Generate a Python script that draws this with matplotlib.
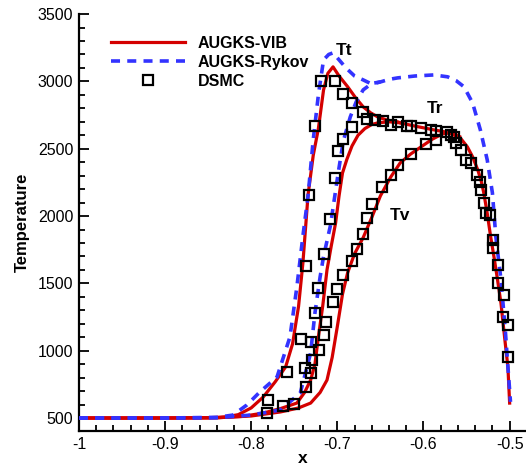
import matplotlib
matplotlib.use("Agg")
import matplotlib.pyplot as plt
from matplotlib.ticker import MultipleLocator

# AUGKS-VIB (red solid)
vib_tt_x = [-1.0, -0.90, -0.85, -0.83, -0.815, -0.80, -0.786, -0.772, -0.760, -0.752, -0.745,
            -0.740, -0.734, -0.728, -0.722, -0.716, -0.711, -0.705, -0.698, -0.688, -0.679,
            -0.670, -0.661, -0.653, -0.642, -0.630, -0.627, -0.610, -0.588, -0.575, -0.565,
            -0.556, -0.549, -0.543, -0.537, -0.533, -0.530, -0.526, -0.522, -0.518, -0.514,
            -0.510, -0.508, -0.505, -0.502, -0.500]
vib_tt_y = [500, 500, 502, 508, 525, 575, 656, 770, 880, 1050, 1330,
            1650, 2157, 2450, 2650, 2937, 3060, 3108, 3040, 2960, 2880,
            2811, 2765, 2736, 2712, 2700, 2692, 2668, 2640, 2625, 2603,
            2570, 2513, 2440, 2343, 2260, 2172, 2020, 1845, 1690, 1525,
            1350, 1228, 1050, 879, 611]
vib_tr_x = [-1.0, -0.90, -0.84, -0.81, -0.786, -0.766, -0.747, -0.738, -0.731, -0.726, -0.722,
            -0.717, -0.712, -0.707, -0.702, -0.698, -0.694, -0.689, -0.683, -0.676, -0.668,
            -0.660, -0.653, -0.640, -0.627]
vib_tr_y = [500, 500, 502, 512, 537, 570, 611, 690, 782, 900, 1102,
            1330, 1600, 1780, 1949, 2150, 2320, 2420, 2520, 2600, 2650,
            2680, 2692, 2700, 2692]
vib_tv_x = [-1.0, -0.90, -0.84, -0.80, -0.766, -0.745, -0.731, -0.720, -0.712, -0.706, -0.700,
            -0.694, -0.688, -0.680, -0.670, -0.660, -0.650, -0.638, -0.627, -0.615, -0.603,
            -0.590, -0.578, -0.567, -0.558]
vib_tv_y = [500, 500, 502, 515, 545, 575, 611, 690, 782, 950, 1180,
            1420, 1580, 1720, 1840, 1990, 2150, 2290, 2395, 2460, 2513,
            2570, 2610, 2620, 2590]

# AUGKS-Rykov (blue dashed)
ryk_tt_x = [-1.0, -0.90, -0.84, -0.821, -0.805, -0.790, -0.770, -0.755, -0.747, -0.740, -0.734,
            -0.728, -0.722, -0.716, -0.710, -0.705, -0.698, -0.690, -0.680, -0.670, -0.660,
            -0.650, -0.640, -0.630, -0.610, -0.588, -0.572, -0.562, -0.553, -0.543, -0.534,
            -0.526, -0.520, -0.516, -0.510, -0.505, -0.502, -0.499]
ryk_tt_y = [500, 500, 505, 522, 597, 693, 805, 1102, 1473, 1850, 2150,
            2566, 2900, 3160, 3200, 3212, 3160, 3100, 3040, 3011, 2980,
            2996, 3015, 3026, 3040, 3048, 3034, 3005, 2960, 2840, 2640,
            2417, 2172, 1845, 1525, 1150, 879, 620]
ryk_tr_x = [-1.0, -0.90, -0.84, -0.80, -0.766, -0.743, -0.731, -0.726, -0.720, -0.716, -0.708,
            -0.699, -0.693, -0.685, -0.678, -0.670, -0.660, -0.650]
ryk_tr_y = [500, 500, 502, 522, 560, 686, 983, 1280, 1548, 1700, 1930,
            2320, 2560, 2736, 2850, 2937, 2985, 2996]

# DSMC (open squares)
dsmc_tt_x = [-0.782, -0.780, -0.759, -0.742, -0.736, -0.733, -0.726, -0.719, -0.703, -0.693,
             -0.683, -0.670, -0.666, -0.656, -0.647, -0.638, -0.630, -0.619, -0.614, -0.603,
             -0.591, -0.585, -0.573, -0.568, -0.565, -0.562, -0.557, -0.551, -0.545, -0.538,
             -0.534, -0.533, -0.530, -0.527, -0.523, -0.519, -0.519, -0.513, -0.514, -0.507,
             -0.508, -0.502, -0.502]
dsmc_tt_y = [537, 634, 842, 1087, 1630, 2157, 2670, 3004, 3004, 2907,
             2840, 2774, 2722, 2714, 2707, 2677, 2700, 2670, 2670, 2655,
             2640, 2630, 2625, 2600, 2588, 2542, 2491, 2417, 2394, 2306,
             2253, 2193, 2097, 2022, 2007, 1822, 1762, 1636, 1503, 1413,
             1250, 1190, 953]
dsmc_tr_x = [-0.763, -0.750, -0.736, -0.731, -0.738, -0.729, -0.721, -0.731, -0.715, -0.713,
             -0.726, -0.705, -0.722, -0.716, -0.708, -0.703, -0.699, -0.693, -0.683]
dsmc_tr_y = [589, 604, 730, 834, 871, 931, 1005, 1065, 1117, 1213,
             1280, 1362, 1466, 1718, 1978, 2283, 2484, 2573, 2662]
dsmc_tv_x = [-0.700, -0.693, -0.683, -0.677, -0.670, -0.665, -0.660, -0.648, -0.638, -0.630,
             -0.615, -0.597, -0.586]
dsmc_tv_y = [1458, 1562, 1666, 1756, 1867, 1986, 2090, 2216, 2305, 2380,
             2462, 2536, 2566]

plt.rcParams['font.family'] = ['Liberation Sans', 'DejaVu Sans']

red = '#d40000'
blue = '#3333ff'

fig = plt.figure(figsize=(5.26, 4.69), dpi=100)
ax = fig.add_axes([0.150, 0.080, 0.850, 0.890])

ax.plot(vib_tt_x, vib_tt_y, color=red, lw=2.3, label='AUGKS-VIB', zorder=2)
ax.plot(vib_tr_x, vib_tr_y, color=red, lw=2.3, zorder=2)
ax.plot(vib_tv_x, vib_tv_y, color=red, lw=2.3, zorder=2)

dash = (2.5, 2.0)
ax.plot(ryk_tt_x, ryk_tt_y, color=blue, lw=2.6, ls=(0, dash), label='AUGKS-Rykov', zorder=3)
ax.plot(ryk_tr_x, ryk_tr_y, color=blue, lw=2.6, ls=(0, dash), zorder=3)

sq = dict(ls='none', marker='s', ms=7.5, mfc='none', mec='black', mew=1.6, zorder=4)
ax.plot(dsmc_tt_x, dsmc_tt_y, label='DSMC', **sq)
ax.plot(dsmc_tr_x, dsmc_tr_y, **sq)
ax.plot(dsmc_tv_x, dsmc_tv_y, **sq)

ax.text(-0.692, 3233, 'Tt', fontsize=12.5, fontweight='bold', ha='center', va='center')
ax.text(-0.587, 2802, 'Tr', fontsize=12.5, fontweight='bold', ha='center', va='center')
ax.text(-0.627, 2007, 'Tv', fontsize=12.5, fontweight='bold', ha='center', va='center')

ax.set_xlim(-1, -0.481)
ax.set_ylim(400, 3500)
ax.xaxis.set_major_locator(MultipleLocator(0.1))
ax.xaxis.set_minor_locator(MultipleLocator(0.02))
ax.yaxis.set_major_locator(MultipleLocator(500))
ax.yaxis.set_minor_locator(MultipleLocator(100))
ax.set_xticks([-1, -0.9, -0.8, -0.7, -0.6, -0.5])
ax.set_xticklabels(['-1', '-0.9', '-0.8', '-0.7', '-0.6', '-0.5'])

for s in ['top', 'right']:
    ax.spines[s].set_visible(False)
for s in ['left', 'bottom']:
    ax.spines[s].set_linewidth(1.6)

ax.tick_params(which='both', direction='in', width=1.3, labelsize=11.5, pad=4)
ax.tick_params(which='major', length=7)
ax.tick_params(which='minor', length=4)

ax.set_xlabel('x', fontsize=12.5, fontweight='bold', labelpad=-1)
ax.set_ylabel('Temperature', fontsize=12, fontweight='bold', labelpad=6)

leg = ax.legend(loc='upper left', bbox_to_anchor=(0.04, 0.982), frameon=False,
                handlelength=4.6, handletextpad=0.8, labelspacing=0.25,
                prop=dict(size=11.5, weight='bold'))

fig.savefig('out.png', dpi=100)
